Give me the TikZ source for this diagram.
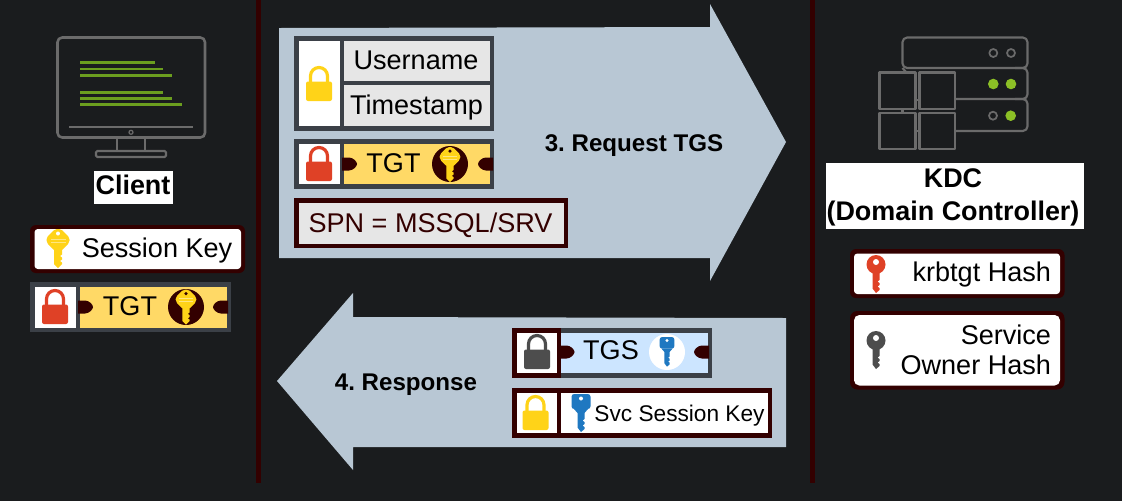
\documentclass[tikz,border=0pt]{standalone}
\usepackage{fontspec}
\setmainfont{Liberation Sans}
\frenchspacing
\definecolor{bgdark}{HTML}{1A1C1E}
\definecolor{maroon}{HTML}{330000}
\definecolor{slateb}{HTML}{3B4047}
\definecolor{arrowb}{HTML}{B8C7D4}
\definecolor{icong}{HTML}{6B6B6B}
\definecolor{codeg}{HTML}{6B9E1F}
\definecolor{ledg}{HTML}{8CC026}
\definecolor{tgty}{HTML}{FFD966}
\definecolor{lighty}{HTML}{FFD318}
\definecolor{stripey}{HTML}{FFE680}
\definecolor{lockr}{HTML}{DF4126}
\definecolor{lockg}{HTML}{4D4D4D}
\definecolor{keyb}{HTML}{1F78C1}
\definecolor{tgsb}{HTML}{CCE5FF}
\definecolor{cellg}{HTML}{E6E6E6}
\tikzset{
  x=.75pt,y=-.75pt,
  lbl/.style={inner sep=0pt,outer sep=0pt,anchor=base,text=black,font=\fontsize{20.3}{24}\selectfont},
  blbl/.style={lbl,font=\fontsize{20.2}{24.6}\selectfont\bfseries},
  hlbl/.style={lbl,font=\fontsize{18.1}{22}\selectfont\bfseries,text=black},
  iconline/.style={draw=icong,line width=1.9pt,rounded corners=3.5pt},
  thin icon/.style={draw=icong,line width=1.6pt},
  codeline/.style={draw=codeg,line width=1.9pt},
  arrowshape/.style={fill=arrowb},
}
% cx, top, colour
\newcommand{\lockIcon}[3]{\begin{scope}[shift={(#1,#2)}]
  \draw[#3,line width=2.4pt] (-8.5,16) -- (-8.5,10) .. controls (-8.5,5.3) and (-4.7,1.5) .. (0,1.5) .. controls (4.7,1.5) and (8.5,5.3) .. (8.5,10) -- (8.5,16);
  \fill[#3,rounded corners=1.5pt] (-13,15.5) rectangle (13,35);
\end{scope}}
\newcommand{\keyShaft}[1]{\fill[#1] (-4,17) -- (-4,35) -- (0,39) -- (4,35) -- (4,33.5) -- (2,32) -- (4,30.5) -- (4,28.5) -- (2,27) -- (4,25.5) -- (4,17) -- cycle;}
% cx, top, scale, colour, hole colour
\newcommand{\keyDiamond}[5]{\begin{scope}[shift={(#1,#2)},scale=#3]
  \keyShaft{#4}
  \fill[#4,rounded corners=1.5pt] (-3,0) -- (3,0) -- (11.5,8.5) -- (11.5,13.5) -- (3,22) -- (-3,22) -- (-11.5,13.5) -- (-11.5,8.5) -- cycle;
  \fill[#5] (0,4.5) circle (2);
  \fill[stripey] (-7.5,9.5) rectangle (7.5,10.7);
  \fill[stripey] (-7.5,13) rectangle (7.5,14.2);
\end{scope}}
\newcommand{\keyRound}[4]{\begin{scope}[shift={(#1,#2)},scale=#3]
  \fill[#4] (-3.5,16) -- (-3.5,33.5) -- (0,38) -- (3.5,35) -- (3.5,33) -- (1.5,31.5) -- (3.5,30) -- (3.5,28) -- (1.5,26.5) -- (3.5,25) -- (3.5,16) -- cycle;
  \fill[#4] (0,9.5) circle (9.5);
  \fill[white] (0,7) circle (3);
\end{scope}}
\newcommand{\keySquare}[5]{\begin{scope}[shift={(#1,#2)},scale=#3]
  \fill[#4] (-3.5,16) -- (-3.5,33.5) -- (0,38) -- (3.5,35) -- (3.5,33) -- (1.5,31.5) -- (3.5,30) -- (3.5,28) -- (1.5,26.5) -- (3.5,25) -- (3.5,16) -- cycle;
  \fill[#4,rounded corners=2pt] (-9.5,0) rectangle (9.5,15);
  \fill[#4] (-7,15) -- (7,15) -- (3.5,19) -- (-3.5,19) -- cycle;
  \fill[#5] (0,4.5) circle (2);
\end{scope}}
% flat-left notch: x0, yc
\newcommand{\notchL}[2]{\begin{scope}[shift={(#1,#2)}]
  \fill[maroon] (0,-6.5) -- (7,-6.5) .. controls (11,-6.5) and (15,-2.5) .. (15,0) .. controls (15,2.5) and (11,6.5) .. (7,6.5) -- (0,6.5) -- cycle;
\end{scope}}
\newcommand{\notchR}[2]{\begin{scope}[shift={(#1,#2)}]
  \fill[maroon] (0,-6.5) -- (-7,-6.5) .. controls (-11,-6.5) and (-15,-2.5) .. (-15,0) .. controls (-15,2.5) and (-11,6.5) .. (-7,6.5) -- (0,6.5) -- cycle;
\end{scope}}
\begin{document}
\begin{tikzpicture}
\useasboundingbox (0,0) rectangle (1122,501);
\fill[bgdark] (0,0) rectangle (1122,501);
% separators
\fill[maroon] (256,0) rectangle (260.5,483);
\fill[maroon] (810,0) rectangle (814.5,483);
% arrows
\fill[arrowshape] (279,28) -- (710,27) -- (710,4) -- (786,142) -- (710,281) -- (710,258) -- (279,258) -- cycle;
\fill[arrowshape] (786,318) -- (353,317) -- (353,293) -- (277,381) -- (353,470) -- (353,447) -- (786,447) -- cycle;

% ---- monitor
\draw[iconline] (57.5,37.5) rectangle (205,137.5);
\draw[thin icon] (69,127) -- (193,127);
\draw[draw=icong,line width=.9pt] (131,132.3) circle (2);
\draw[thin icon] (117,138) -- (117,151);
\draw[thin icon] (145,138) -- (145,151);
\draw[thin icon,rounded corners=1pt] (96,151) rectangle (166,157);
\draw[codeline] (80,62.5) -- (155,62.5);
\draw[codeline] (80,69) -- (163,69);
\draw[codeline] (80,75.3) -- (172,75.3);
\draw[codeline] (80,92.3) -- (163,92.3);
\draw[codeline] (80,98.5) -- (172,98.5);
\draw[codeline] (80,104.7) -- (182,104.7);
% Client label
\fill[white] (94,171) rectangle (172.5,204);
\node[blbl] (client) at (133,194) {Client};
% session key
\fill[maroon,rounded corners=4.5pt] (30,225) rectangle (245,273);
\fill[white,rounded corners=2.5pt] (34.5,229) rectangle (241,269);
\keyDiamond{58}{229}{1}{lighty}{white}
\node[lbl] (sess) at (157,257) {Session Key};
% client TGT
\fill[slateb] (30,282) rectangle (231,332);
\fill[white] (34.5,286.5) rectangle (75.5,327.5);
\fill[tgty] (80,286.5) rectangle (226.5,327.5);
\lockIcon{55}{289}{lockr}
\notchL{78}{307}
\notchR{228}{307}
\node[lbl] (ctgt) at (130,315) {TGT};
\fill[maroon] (186,307) circle (18);
\keyDiamond{186}{289.5}{.9}{lighty}{maroon}

% ---- request group
\fill[slateb] (294,36) rectangle (494,130.5);
\fill[white] (298.5,40.5) rectangle (339.5,126);
\fill[cellg] (343.5,40.5) rectangle (490,81);
\fill[cellg] (343.5,85) rectangle (490,126);
\lockIcon{319}{66}{lighty}
\node[lbl] (user) at (416,69) {Username};
\node[lbl] (time) at (416.5,114) {Timestamp};
% request TGT
\fill[slateb] (294,139) rectangle (494,188.5);
\fill[white] (298.5,143.5) rectangle (339.5,184);
\fill[tgty] (343.5,143.5) rectangle (490,184);
\lockIcon{319}{146}{lockr}
\notchL{342}{164}
\notchR{493}{164}
\node[lbl] (rtgt) at (393.5,172.5) {TGT};
\fill[maroon] (450,164) circle (18);
\keyDiamond{450}{147}{.9}{lighty}{maroon}
% SPN
\fill[maroon] (294,198) rectangle (568,248);
\fill[cellg] (298.5,202.5) rectangle (563.5,243.5);
\node[lbl,text=maroon] (spn) at (430.5,232.5) {SPN = MSSQL/SRV};
\node[hlbl] (req) at (634,151.5) {3. Request TGS};

% ---- response
\fill[slateb] (512,328) rectangle (712,377.5);
\fill[tgsb] (560,332.5) rectangle (707.5,373);
\fill[maroon] (512,328) rectangle (561,377.5);
\fill[white] (516.5,332.5) rectangle (556.5,373);
\lockIcon{537}{334}{lockg}
\notchL{559.5}{352}
\notchR{709}{352}
\node[lbl] (tgs) at (611,359.5) {TGS};
\fill[white] (667,352) circle (18);
\keySquare{667}{337}{.78}{keyb}{white}
\fill[maroon] (512,388) rectangle (772,437.5);
\fill[white] (516.5,392.5) rectangle (557,433);
\fill[white] (561,392.5) rectangle (767.5,433);
\lockIcon{535.5}{395}{lighty}
\keySquare{581}{394}{1}{keyb}{white}
\node[lbl,font=\fontsize{17}{20}\selectfont] (svc) at (679.5,421) {Svc Session Key};
\node[hlbl] (resp) at (406,390.5) {4. Response};

% ---- server icon
\begin{scope}[line join=round]
\draw[thin icon,rounded corners=3.5pt] (902.5,37.5) rectangle (1027.5,68);
\draw[thin icon,rounded corners=3.5pt] (1015,68) -- (1027.5,68) -- (1027.5,99) -- (955,99);
\draw[thin icon,rounded corners=3.5pt] (1015,99) -- (1027.5,99) -- (1027.5,131) -- (955,131);
\draw[thin icon] (902.5,68) -- (906,72);
\draw[thin icon] (916,100) -- (919,100);
\draw[thin icon] (916,131) -- (919,131);
\draw[thin icon] (902.5,109) -- (902.5,112.5);
\draw[thin icon] (879.5,72.5) rectangle (915.5,109);
\draw[thin icon] (919.5,72.5) rectangle (955,109);
\draw[thin icon] (879.5,113) rectangle (915.5,149);
\draw[thin icon] (919.5,113) rectangle (955,149);
\draw[thin icon,line width=1.3pt] (993.3,53) circle (4);
\draw[thin icon,line width=1.3pt] (1011,53) circle (4);
\fill[ledg] (993.3,84) circle (5.3);
\fill[ledg] (1011,84) circle (5.3);
\draw[thin icon,line width=1.3pt] (993,115.7) circle (4);
\fill[ledg] (1010.7,115.7) circle (5.3);
\end{scope}
% KDC label
\fill[white] (826,163) rectangle (1083.5,228.5);
\node[blbl,anchor=center,align=center] (kdc) at (953,197.5) {KDC\\(Domain Controller)};
% krbtgt
\fill[maroon,rounded corners=4.5pt] (850,249) rectangle (1064.5,298);
\fill[white,rounded corners=2.5pt] (854,253.5) rectangle (1060,294);
\keyRound{876}{255}{1}{lockr}
\node[lbl,anchor=base east] (krb) at (1051,281.5) {krbtgt Hash};
% service owner
\fill[maroon,rounded corners=5.5pt] (850,311) rectangle (1064.5,389.5);
\fill[white,rounded corners=4pt] (854,315) rectangle (1060,385.5);
\keyRound{876}{331}{1}{lockg}
\node[lbl,anchor=east,align=right,font=\fontsize{20.3}{22.5}\selectfont] (svo) at (1051,350) {Service\\Owner Hash};
\end{tikzpicture}
\end{document}
